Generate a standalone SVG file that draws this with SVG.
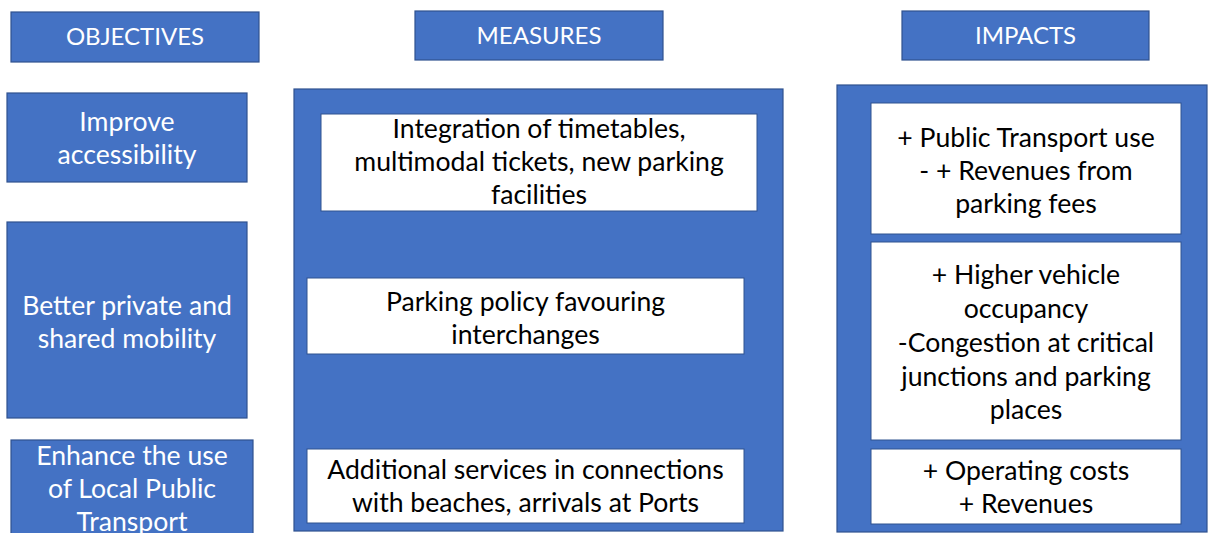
<svg xmlns="http://www.w3.org/2000/svg" width="1208" height="533" viewBox="0 0 1208 533">
<style>
.blue{fill:#4472C4;stroke:#2F528F;stroke-width:1.2}
.white{fill:#FFFFFF;stroke:#2F528F;stroke-width:1}
.hd{font-family:Lato,"Liberation Sans",sans-serif;font-size:24px;fill:#FFFFFF;text-anchor:middle}
.wt{font-family:Lato,"Liberation Sans",sans-serif;font-size:26.6px;fill:#FFFFFF;text-anchor:middle}
.bt{font-family:Lato,"Liberation Sans",sans-serif;font-size:26.6px;fill:#000000;text-anchor:middle}
</style>
<rect width="1208" height="533" fill="#FFFFFF"/>
<g id="header-objectives"><rect class="blue" x="11" y="12" width="248" height="50"/><text class="hd" x="135" y="45">OBJECTIVES</text></g>
<g id="header-measures"><rect class="blue" x="415" y="11" width="248" height="49"/><text class="hd" x="539" y="44">MEASURES</text></g>
<g id="header-impacts"><rect class="blue" x="902" y="11" width="247" height="49"/><text class="hd" x="1025.5" y="44">IMPACTS</text></g>

<g id="obj-accessibility"><rect class="blue" x="7" y="93" width="240" height="89"/><text class="wt" x="127" y="131">Improve</text><text class="wt" x="127" y="164">accessibility</text></g>
<g id="obj-mobility"><rect class="blue" x="7" y="222" width="240" height="196"/><text class="wt" x="127" y="315">Better private and</text><text class="wt" x="127" y="348">shared mobility</text></g>
<g id="obj-transport"><rect class="blue" x="11" y="440" width="242" height="100"/><text class="wt" x="132" y="465">Enhance the use</text><text class="wt" x="132" y="498">of Local Public</text><text class="wt" x="132" y="531">Transport</text></g>

<g id="measures-panel"><rect class="blue" x="294" y="89" width="489" height="442"/></g>
<g id="measure-integration"><rect class="white" x="321" y="114" width="436" height="97"/><text class="bt" x="539" y="138">Integration of timetables,</text><text class="bt" x="539" y="171">multimodal tickets, new parking</text><text class="bt" x="539" y="204">facilities</text></g>
<g id="measure-parking"><rect class="white" x="307" y="278" width="437" height="76"/><text class="bt" x="525.5" y="311">Parking policy favouring</text><text class="bt" x="525.5" y="344">interchanges</text></g>
<g id="measure-services"><rect class="white" x="307" y="449" width="437" height="74"/><text class="bt" x="525.5" y="479">Additional services in connections</text><text class="bt" x="525.5" y="512">with beaches, arrivals at Ports</text></g>

<g id="impacts-panel"><rect class="blue" x="837" y="85" width="370" height="447"/></g>
<g id="impact-pt"><rect class="white" x="871" y="103" width="310" height="131"/><text class="bt" x="1026" y="147">+ Public Transport use</text><text class="bt" x="1026" y="180">- + Revenues from</text><text class="bt" x="1026" y="213">parking fees</text></g>
<g id="impact-occupancy"><rect class="white" x="871" y="242" width="310" height="198"/><text class="bt" x="1026" y="284">+ Higher vehicle</text><text class="bt" x="1026" y="318">occupancy</text><text class="bt" x="1026" y="352">-Congestion at critical</text><text class="bt" x="1026" y="386">junctions and parking</text><text class="bt" x="1026" y="419">places</text></g>
<g id="impact-costs"><rect class="white" x="871" y="449" width="310" height="75"/><text class="bt" x="1026" y="480">+ Operating costs</text><text class="bt" x="1026" y="513">+ Revenues</text></g>
<g id="connectors"></g>
</svg>
